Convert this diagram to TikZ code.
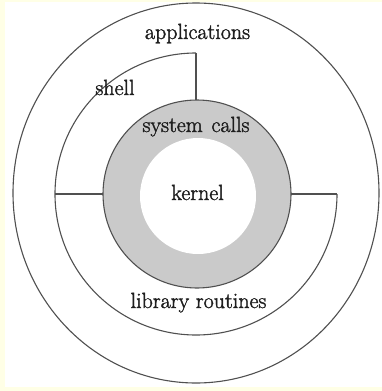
\documentclass[tikz,border=0pt]{standalone}
\definecolor{bgyellow}{HTML}{FFFFE6}
\definecolor{linegray}{HTML}{505050}
\definecolor{ringgray}{HTML}{CACACA}
\definecolor{textgray}{HTML}{1E1E1E}
\newcommand{\heavytext}[1]{\special{pdf:literal direct 2 Tr 0.35 w}#1\special{pdf:literal direct 0 Tr}}
\begin{document}
\begin{tikzpicture}[x=1pt,y=-1pt,
  ring/.style={draw=linegray, line width=1.1pt},
  bar/.style={draw=linegray, line width=1.8pt},
  lbl/.style={font=\fontsize{22}{26}\selectfont, text=textgray, inner sep=0pt, anchor=base}]
\fill[bgyellow] (0,0) rectangle (382,391);
\fill[white] (5,2) rectangle (382,387);
\useasboundingbox (0,0) rectangle (382,391);
% outer circle
\draw[ring] (196,193) ellipse [x radius=183, y radius=190];
% gray ring and kernel
\fill[ringgray] (197,194) circle [radius=94];
\draw[ring] (197,194) circle [radius=94];
\fill[white] (198,196) circle [radius=58];
% key points
\coordinate (shL) at (55,194);
\coordinate (shT) at (196,53);
\coordinate (shR) at (337,194);
\coordinate (gL) at (103,194);
\coordinate (gT) at (196,100);
\coordinate (gR) at (291,194);
% shell arc (left to top) and library arc (left via bottom to right)
\draw[ring] (shL) arc [start angle=180, end angle=270, radius=141];
\draw[ring] (shL) arc [start angle=180, end angle=0, radius=141];
% connecting bars
\draw[bar] (shT) -- (gT);
\draw[bar] (shL) -- (gL);
\draw[bar] (shR) -- (gR);
% labels
\node[lbl] (apps) at (197.5,39) {\heavytext{applications}};
\node[lbl] (shell) at (115,95) {\heavytext{shell}};
\node[lbl] (sys) at (196,132) {\heavytext{system\hspace{0.4em}calls}};
\node[lbl] (kern) at (197.5,200) {\heavytext{kernel}};
\node[lbl] (lib) at (198.5,308) {\heavytext{library routines}};
\end{tikzpicture}
\end{document}
